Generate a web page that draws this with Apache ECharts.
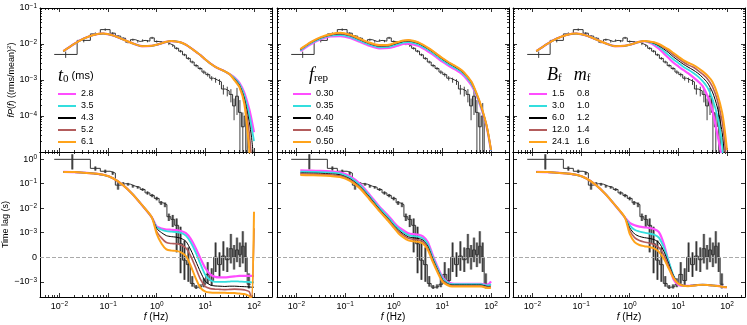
<!DOCTYPE html>
<html>
<head>
<meta charset="utf-8">
<title>PDS and time lag model comparison</title>
<script src="https://cdn.jsdelivr.net/npm/echarts@6/dist/echarts.min.js"></script>
<style>html,body{margin:0;padding:0;background:#fff}#main{width:747px;height:325px}</style>
</head>
<body>
<div id="main"></div>
<script>
// legend entries
var t0Names = ['2.8', '3.5', '4.3', '5.2', '6.1'];
var frepNames = ['0.30', '0.35', '0.40', '0.45', '0.50'];
var bfVals = ['1.5', '3.0', '6.0', '12.0', '24.1'];
var mfVals = ['0.8', '1.0', '1.2', '1.4', '1.6'];

// observed power spectrum: bin edges (Hz), log10 fP(f), relative error
var pdsEdges = [0.0078, 0.0231, 0.0432, 0.0692, 0.110, 0.141, 0.182, 0.229, 0.288, 0.363, 0.457, 0.575, 0.724, 0.891, 1.12, 1.35, 1.62, 1.95, 2.34, 2.82, 3.39, 4.07, 4.90, 5.89, 7.08, 8.51, 10.2, 12.3, 14.8, 17.8, 21.4, 25.7, 30.9, 36.3, 41.7, 47.9, 55.0, 63.1, 72.4, 85.1];
var pdsDex = [-2.29, -1.90, -1.72, -1.60, -1.70, -1.78, -1.84, -1.95, -1.88, -1.93, -1.90, -1.92, -1.83, -1.93, -1.95, -1.95, -2.00, -2.05, -2.12, -2.20, -2.30, -2.40, -2.50, -2.60, -2.68, -2.78, -2.85, -2.95, -3.00, -3.05, -3.25, -3.30, -3.40, -3.72, -3.45, -3.90, -4.30, -4.00, -5.50];
var pdsRelErr = [0.2, 0.12, 0.1, 0.08, 0.07, 0.07, 0.07, 0.07, 0.07, 0.07, 0.07, 0.07, 0.07, 0.07, 0.07, 0.07, 0.07, 0.07, 0.08, 0.08, 0.08, 0.09, 0.09, 0.1, 0.1, 0.12, 0.12, 0.14, 0.16, 0.18, 0.3, 0.3, 0.4, 0.6, 0.7, 1.2, 1.5, 1.3, 2.0];

// observed time lags: bin edges (Hz), lag (s), error (s)
var lagEdges = [0.0078, 0.0432, 0.0692, 0.110, 0.141, 0.182, 0.229, 0.288, 0.363, 0.457, 0.575, 0.724, 0.891, 1.12, 1.35, 1.62, 1.95, 2.34, 2.82, 3.39, 4.07, 4.90, 5.89, 7.08, 8.51, 10.2, 12.3, 14.8, 17.8, 21.4, 25.7, 30.9, 36.3, 41.7, 47.9, 55.0, 63.1, 72.4, 85.1];
var lagVal = [0.98, 0.42, 0.32, 0.27, 0.087, 0.10, 0.095, 0.079, 0.071, 0.058, 0.042, 0.033, 0.025, 0.0166, 0.014, 4.5e-3, 3.5e-3, 2.0e-3, 5.5e-4, -1.2e-4, -3.0e-4, -1.17e-3, -1.66e-3, -1.58e-3, -1.26e-3, -7.0e-4, -9.5e-4, 0, -3.0e-4, 5e-5, -1.0e-4, 3.5e-4, 0, 3.0e-4, 1.0e-4, 4.5e-4, 0, -1.26e-3];
var lagErr = [0.6, 0.08, 0.05, 0.04, 0.03, 0.015, 0.012, 0.01, 0.008, 0.007, 0.006, 0.005, 0.004, 0.003, 0.003, 1.5e-3, 1.8e-3, 1.8e-3, 1.2e-3, 8e-4, 7e-4, 4e-4, 3e-4, 3e-4, 4e-4, 5e-4, 5e-4, 6e-4, 5e-4, 6e-4, 5e-4, 6e-4, 5e-4, 5e-4, 5e-4, 7e-4, 6e-4, 6e-4];

// model frequency grid (Hz)
var modelFreq = [0.012, 0.02, 0.0316, 0.05, 0.0794, 0.126, 0.2, 0.316, 0.5, 0.794, 1.0, 1.26, 1.58, 2.0, 2.51, 3.16, 3.98, 5.01, 6.31, 7.94, 10, 12.6, 15.8, 20, 25.1, 31.6, 39.8, 50.1, 63.1, 79.4, 89.1, 100];

// model log10 fP(f), one row per legend entry
var pdsT0Dex = [
  [-2.20, -2.00, -1.85, -1.75, -1.71, -1.76, -1.87, -1.98, -2.06, -2.05, -2.02, -1.98, -1.94, -1.92, -1.93, -1.96, -2.02, -2.11, -2.21, -2.31, -2.43, -2.54, -2.63, -2.70, -2.76, -2.84, -2.93, -3.08, -3.35, -3.80, -4.10, -4.45],
  [-2.20, -2.00, -1.85, -1.75, -1.71, -1.76, -1.87, -1.98, -2.06, -2.05, -2.02, -1.98, -1.94, -1.92, -1.93, -1.96, -2.02, -2.11, -2.21, -2.31, -2.43, -2.54, -2.63, -2.70, -2.76, -2.84, -2.95, -3.11, -3.42, -3.95, -4.30, -4.70],
  [-2.20, -2.00, -1.85, -1.75, -1.71, -1.76, -1.87, -1.98, -2.06, -2.05, -2.02, -1.98, -1.94, -1.92, -1.93, -1.96, -2.02, -2.11, -2.21, -2.31, -2.43, -2.54, -2.63, -2.70, -2.76, -2.84, -2.97, -3.14, -3.50, -4.15, -4.60, -5.30],
  [-2.20, -2.00, -1.85, -1.75, -1.71, -1.76, -1.87, -1.98, -2.06, -2.05, -2.02, -1.98, -1.94, -1.92, -1.93, -1.96, -2.02, -2.11, -2.21, -2.31, -2.43, -2.54, -2.63, -2.70, -2.76, -2.84, -2.99, -3.17, -3.58, -4.45, -5.20, -6.00],
  [-2.20, -2.00, -1.85, -1.75, -1.71, -1.76, -1.87, -1.98, -2.06, -2.05, -2.02, -1.98, -1.94, -1.92, -1.93, -1.96, -2.02, -2.11, -2.21, -2.31, -2.43, -2.54, -2.63, -2.70, -2.76, -2.84, -3.01, -3.20, -3.66, -4.90, -6.00, -6.00]
];
var pdsFrepDex = [
  [-2.20, -2.00, -1.87, -1.79, -1.78, -1.83, -1.94, -2.05, -2.12, -2.11, -2.08, -2.04, -2.00, -1.99, -2.01, -2.05, -2.12, -2.20, -2.29, -2.39, -2.49, -2.58, -2.66, -2.74, -2.83, -2.97, -3.15, -3.42, -3.79, -4.24, -4.57, -4.97],
  [-2.18, -1.98, -1.85, -1.77, -1.75, -1.80, -1.91, -2.02, -2.09, -2.08, -2.04, -2.00, -1.96, -1.95, -1.97, -2.01, -2.08, -2.16, -2.25, -2.35, -2.45, -2.54, -2.62, -2.70, -2.79, -2.93, -3.11, -3.40, -3.77, -4.23, -4.56, -4.96],
  [-2.16, -1.96, -1.83, -1.75, -1.72, -1.77, -1.88, -1.99, -2.06, -2.05, -2.01, -1.97, -1.93, -1.92, -1.94, -1.98, -2.05, -2.13, -2.22, -2.32, -2.42, -2.51, -2.59, -2.67, -2.76, -2.90, -3.08, -3.38, -3.75, -4.22, -4.55, -4.95],
  [-2.15, -1.95, -1.82, -1.74, -1.71, -1.76, -1.87, -1.98, -2.05, -2.04, -1.99, -1.95, -1.91, -1.90, -1.92, -1.96, -2.03, -2.11, -2.20, -2.30, -2.40, -2.49, -2.57, -2.65, -2.74, -2.88, -3.06, -3.37, -3.74, -4.21, -4.54, -4.94],
  [-2.14, -1.94, -1.81, -1.73, -1.69, -1.74, -1.85, -1.96, -2.03, -2.02, -1.98, -1.94, -1.90, -1.89, -1.91, -1.95, -2.02, -2.10, -2.19, -2.29, -2.39, -2.48, -2.56, -2.64, -2.73, -2.87, -3.05, -3.36, -3.73, -4.21, -4.54, -4.94]
];
var pdsBmDex = [
  [-2.20, -2.00, -1.85, -1.75, -1.71, -1.76, -1.87, -1.98, -2.06, -2.05, -2.02, -1.98, -1.94, -1.92, -1.96, -2.03, -2.13, -2.26, -2.39, -2.52, -2.62, -2.72, -2.81, -2.92, -3.03, -3.17, -3.45, -3.85, -4.50, -5.20, -6.00, -6.00],
  [-2.20, -2.00, -1.85, -1.75, -1.71, -1.76, -1.87, -1.98, -2.06, -2.05, -2.02, -1.98, -1.94, -1.92, -1.95, -2.00, -2.08, -2.19, -2.31, -2.43, -2.53, -2.63, -2.71, -2.80, -2.90, -3.03, -3.21, -3.52, -4.00, -4.80, -6.00, -6.00],
  [-2.20, -2.00, -1.85, -1.75, -1.71, -1.76, -1.87, -1.98, -2.06, -2.05, -2.02, -1.98, -1.94, -1.92, -1.94, -1.98, -2.05, -2.14, -2.24, -2.36, -2.46, -2.56, -2.64, -2.72, -2.81, -2.93, -3.08, -3.33, -3.75, -4.45, -5.10, -6.00],
  [-2.20, -2.00, -1.85, -1.75, -1.71, -1.76, -1.87, -1.98, -2.06, -2.05, -2.02, -1.98, -1.94, -1.92, -1.93, -1.96, -2.02, -2.10, -2.19, -2.30, -2.40, -2.50, -2.58, -2.64, -2.73, -2.84, -2.97, -3.18, -3.55, -4.15, -4.70, -5.50],
  [-2.20, -2.00, -1.85, -1.75, -1.71, -1.76, -1.87, -1.98, -2.06, -2.05, -2.02, -1.98, -1.94, -1.92, -1.93, -1.95, -2.00, -2.07, -2.15, -2.25, -2.35, -2.45, -2.52, -2.58, -2.66, -2.76, -2.88, -3.05, -3.38, -3.90, -4.35, -4.95]
];

// model time lags (s)
var lagT0 = [
  [0.30, 0.295, 0.28, 0.26, 0.23, 0.166, 0.089, 0.038, 0.0132, 0.0042, 1.78e-3, 1.48e-3, 1.35e-3, 1.32e-3, 1.29e-3, 1.17e-3, 9.8e-4, 7.5e-4, 3.8e-4, -5e-5, -4.5e-4, -7.0e-4, -8.0e-4, -8.2e-4, -8.2e-4, -8.0e-4, -7.8e-4, -7.6e-4, -7.6e-4, -7.6e-4, -7.6e-4, -7.6e-4],
  [0.30, 0.295, 0.28, 0.26, 0.23, 0.166, 0.089, 0.038, 0.0132, 0.0042, 1.66e-3, 1.32e-3, 1.15e-3, 1.10e-3, 1.07e-3, 9.9e-4, 8.8e-4, 6.0e-4, 2.0e-4, -2.8e-4, -7.2e-4, -9.3e-4, -1.0e-3, -1.0e-3, -1.0e-3, -9.9e-4, -9.8e-4, -9.9e-4, -1.0e-3, -1.02e-3, -1.05e-3, -1.05e-3],
  [0.30, 0.295, 0.28, 0.26, 0.23, 0.166, 0.089, 0.038, 0.0132, 0.0042, 1.48e-3, 1.0e-3, 8.8e-4, 8.4e-4, 8.2e-4, 7.7e-4, 6.5e-4, 3.0e-4, -1.5e-4, -6.0e-4, -9.8e-4, -1.35e-3, -1.48e-3, -1.51e-3, -1.55e-3, -1.51e-3, -1.51e-3, -1.55e-3, -1.58e-3, -1.62e-3, -1.66e-3, -1.66e-3],
  [0.30, 0.295, 0.28, 0.26, 0.23, 0.166, 0.089, 0.038, 0.0132, 0.0042, 1.12e-3, 7.8e-4, 6.0e-4, 5.6e-4, 5.5e-4, 5.0e-4, 3.8e-4, 5e-5, -4.2e-4, -9.0e-4, -1.58e-3, -1.9e-3, -2.0e-3, -2.04e-3, -2.09e-3, -2.04e-3, -2.0e-3, -2.04e-3, -2.14e-3, -2.51e-3, -5.0e-3, 1.51e-3],
  [0.30, 0.295, 0.28, 0.26, 0.23, 0.166, 0.089, 0.038, 0.0132, 0.0042, 9.5e-4, 5.5e-4, 3.2e-4, 2.7e-4, 2.6e-4, 2.0e-4, 5e-5, -3.5e-4, -8.5e-4, -1.78e-3, -2.51e-3, -2.75e-3, -2.82e-3, -2.82e-3, -2.82e-3, -2.88e-3, -2.88e-3, -3.02e-3, -3.16e-3, -3.8e-3, -5.0e-3, 7.1e-3]
];
var lagFrep = [
  [0.347, 0.339, 0.331, 0.316, 0.288, 0.20, 0.10, 0.036, 0.012, 4.6e-3, 2.7e-3, 1.7e-3, 1.26e-3, 9.8e-4, 9.4e-4, 9.2e-4, 8.5e-4, 6.2e-4, 1.0e-4, -3.8e-4, -8.0e-4, -1.0e-3, -1.17e-3, -1.2e-3, -1.2e-3, -1.2e-3, -1.2e-3, -1.2e-3, -1.2e-3, -1.32e-3, -1.26e-3, -9.8e-4],
  [0.309, 0.302, 0.295, 0.282, 0.257, 0.178, 0.089, 0.032, 0.0107, 4.0e-3, 2.3e-3, 1.45e-3, 1.05e-3, 9.0e-4, 8.6e-4, 8.4e-4, 7.7e-4, 5.3e-4, 2e-5, -4.4e-4, -8.5e-4, -1.07e-3, -1.26e-3, -1.26e-3, -1.26e-3, -1.26e-3, -1.26e-3, -1.26e-3, -1.26e-3, -1.41e-3, -1.41e-3, -1.26e-3],
  [0.275, 0.269, 0.263, 0.251, 0.229, 0.158, 0.079, 0.029, 9.5e-3, 3.5e-3, 2.0e-3, 1.26e-3, 9.5e-4, 8.3e-4, 7.9e-4, 7.7e-4, 7.0e-4, 4.5e-4, -5e-5, -5.0e-4, -9.0e-4, -1.17e-3, -1.35e-3, -1.35e-3, -1.35e-3, -1.35e-3, -1.35e-3, -1.35e-3, -1.35e-3, -1.51e-3, -1.55e-3, -1.51e-3],
  [0.251, 0.245, 0.240, 0.229, 0.209, 0.145, 0.072, 0.026, 8.7e-3, 3.2e-3, 1.8e-3, 1.1e-3, 8.9e-4, 7.7e-4, 7.3e-4, 7.1e-4, 6.4e-4, 3.8e-4, -1.1e-4, -5.5e-4, -9.4e-4, -1.26e-3, -1.45e-3, -1.45e-3, -1.45e-3, -1.45e-3, -1.45e-3, -1.45e-3, -1.45e-3, -1.62e-3, -1.66e-3, -1.62e-3],
  [0.224, 0.219, 0.214, 0.204, 0.186, 0.129, 0.065, 0.023, 7.8e-3, 2.8e-3, 1.6e-3, 9.7e-4, 8.1e-4, 6.9e-4, 6.5e-4, 6.3e-4, 5.6e-4, 3.0e-4, -1.8e-4, -6.1e-4, -9.9e-4, -1.35e-3, -1.55e-3, -1.55e-3, -1.55e-3, -1.55e-3, -1.55e-3, -1.55e-3, -1.55e-3, -1.74e-3, -1.78e-3, -1.74e-3]
];
var lagBm = [
  [0.30, 0.295, 0.28, 0.26, 0.23, 0.166, 0.089, 0.038, 0.0132, 0.0042, 2.51e-3, 2.0e-3, 1.78e-3, 1.66e-3, 1.58e-3, 1.41e-3, 1.05e-3, 5.5e-4, -2.0e-4, -9.0e-4, -1.32e-3, -1.48e-3, -1.48e-3, -1.41e-3, -1.35e-3, -1.32e-3, -1.35e-3, -1.41e-3, -1.48e-3, -1.58e-3, -1.66e-3, -1.66e-3],
  [0.30, 0.295, 0.28, 0.26, 0.23, 0.166, 0.089, 0.038, 0.0132, 0.0042, 2.0e-3, 1.32e-3, 1.12e-3, 1.0e-3, 9.7e-4, 9.2e-4, 8.0e-4, 4.0e-4, -1.5e-4, -7.5e-4, -1.2e-3, -1.45e-3, -1.48e-3, -1.41e-3, -1.35e-3, -1.32e-3, -1.35e-3, -1.41e-3, -1.48e-3, -1.58e-3, -1.66e-3, -1.66e-3],
  [0.30, 0.295, 0.28, 0.26, 0.23, 0.166, 0.089, 0.038, 0.0132, 0.0042, 1.58e-3, 9.5e-4, 8.5e-4, 8.0e-4, 7.7e-4, 7.2e-4, 6.0e-4, 2.5e-4, -2.5e-4, -7.5e-4, -1.12e-3, -1.41e-3, -1.48e-3, -1.41e-3, -1.35e-3, -1.32e-3, -1.35e-3, -1.41e-3, -1.48e-3, -1.58e-3, -1.66e-3, -1.66e-3],
  [0.30, 0.295, 0.28, 0.26, 0.23, 0.166, 0.089, 0.038, 0.0132, 0.0042, 1.26e-3, 8.0e-4, 6.8e-4, 6.2e-4, 5.8e-4, 5.2e-4, 4.0e-4, 1.0e-4, -3.5e-4, -8.0e-4, -1.12e-3, -1.41e-3, -1.48e-3, -1.41e-3, -1.35e-3, -1.32e-3, -1.35e-3, -1.41e-3, -1.48e-3, -1.58e-3, -1.66e-3, -1.66e-3],
  [0.30, 0.295, 0.28, 0.26, 0.23, 0.166, 0.089, 0.038, 0.0132, 0.0042, 9.5e-4, 6.2e-4, 5.0e-4, 4.5e-4, 4.2e-4, 3.6e-4, 2.2e-4, -5e-5, -4.5e-4, -8.5e-4, -1.2e-3, -1.45e-3, -1.51e-3, -1.45e-3, -1.35e-3, -1.32e-3, -1.35e-3, -1.41e-3, -1.48e-3, -1.58e-3, -1.66e-3, -1.66e-3]
];

var FONT = "'Liberation Sans', Arial, sans-serif";
var SERIF = "'Liberation Serif', 'DejaVu Serif', serif";
var colors = ['#ff4dff', '#33dede', '#000000', '#b35c5c', '#ffa31a'];
var widths = [2.2, 1.8, 1.0, 1.6, 2.0];

var X_MIN = -2.4, X_MAX = 2.37;
var PDS_MIN = -5, PDS_MAX = -1;
var LAG_MIN = -1.62, LAG_MAX = 4.29;
var colLeft = [40, 277, 513];
var rows = [{top: 8, height: 144}, {top: 152, height: 145}];

function lg(v) { return Math.log10(v); }
// symmetric log, linear inside +-1e-3 s
function symlog(v) {
  var a = Math.abs(v);
  if (a <= 1e-3) return v / 1e-3;
  return (v < 0 ? -1 : 1) * (1 + Math.log10(a / 1e-3));
}
function clamp(v, lo, hi) { return Math.max(lo, Math.min(hi, v)); }
function logMinors(lo, hi) {
  var out = [];
  for (var k = Math.floor(lo); k <= Math.ceil(hi); k++) {
    for (var m = 2; m <= 9; m++) {
      var v = k + Math.log10(m);
      if (v > lo && v < hi) out.push(v);
    }
  }
  return out;
}
function expText(e) { return e < 0 ? '\u2212' + (-e) : String(e); }

var labelRich = {
  b: {fontSize: 9, fontFamily: FONT, color: '#000', lineHeight: 11},
  s: {fontSize: 6.5, fontFamily: FONT, color: '#000', lineHeight: 7, verticalAlign: 'top'}
};

var xCfg = {min: X_MIN, max: X_MAX, majors: [-2, -1, 0, 1, 2], minors: logMinors(X_MIN, X_MAX)};
var pdsCfg = {min: PDS_MIN, max: PDS_MAX, majors: [-5, -4, -3, -2, -1], minors: logMinors(PDS_MIN, PDS_MAX)};
var lagCfg = {min: LAG_MIN, max: LAG_MAX, majors: [-1, 0, 1, 2, 3, 4], minors: []};

function makeAxis(g, pos, main, cfg) {
  var ticks = main ? cfg.majors : cfg.minors;
  return {
    type: 'value', gridIndex: g, position: pos, min: cfg.min, max: cfg.max,
    axisLine: {show: main, onZero: false, lineStyle: {color: '#000', width: 1}},
    axisTick: {show: ticks.length > 0, inside: true, length: main ? 4 : 2,
      customValues: ticks, lineStyle: {color: '#000', width: 0.8}},
    axisLabel: {show: false},
    splitLine: {show: false},
    silent: true
  };
}

var grids = [], xAxes = [], yAxes = [], series = [];
for (var r = 0; r < 2; r++) {
  for (var c = 0; c < 3; c++) {
    var g = r * 3 + c;
    grids.push({left: colLeft[c], top: rows[r].top, width: 232, height: rows[r].height, outerBoundsMode: 'none'});
    var yCfg = r === 0 ? pdsCfg : lagCfg;

    var xb = makeAxis(g, 'bottom', true, xCfg);
    if (r === 1) {
      xb.axisLabel = {show: true, customValues: xCfg.majors, margin: 4, rich: labelRich,
        formatter: function (v) { return '{b|10}{s|' + expText(v) + '}'; }};
      xb.name = '{i|f} (Hz)';
      xb.nameLocation = 'middle';
      xb.nameGap = 12;
      xb.nameTextStyle = {fontSize: 10, fontFamily: FONT, color: '#000',
        rich: {i: {fontSize: 10, fontFamily: FONT, fontStyle: 'italic'}}};
    }
    xAxes.push(xb, makeAxis(g, 'bottom', false, xCfg), makeAxis(g, 'top', true, xCfg), makeAxis(g, 'top', false, xCfg));

    var yl = makeAxis(g, 'left', true, yCfg);
    if (c === 0) {
      if (r === 0) {
        yl.axisLabel = {show: true, customValues: [-4, -3, -2, -1], margin: 3, rich: labelRich,
          formatter: function (v) { return '{b|10}{s|' + expText(v) + '}'; }};
        yl.name = '{i|fP}({i|f}) ((rms/mean){s|2})';
      } else {
        yl.axisLabel = {show: true, customValues: lagCfg.majors, margin: 3, rich: labelRich,
          formatter: function (v) {
            if (v === 0) return '{b|0}';
            if (v < 0) return '{b|\u221210}{s|\u22123}';
            return '{b|10}{s|' + expText(v - 4) + '}';
          }};
        yl.name = 'Time lag (s)';
      }
      yl.nameLocation = 'middle';
      yl.nameGap = 22;
      yl.nameTextStyle = {fontSize: 9, fontFamily: FONT, color: '#000',
        rich: {i: {fontSize: 9, fontFamily: FONT, fontStyle: 'italic'},
               s: {fontSize: 6, fontFamily: FONT, verticalAlign: 'top'}}};
    }
    yAxes.push(yl, makeAxis(g, 'left', false, yCfg), makeAxis(g, 'right', true, yCfg), makeAxis(g, 'right', false, yCfg));
  }
}

function errorSeries(g, data, thick) {
  return {
    type: 'custom', xAxisIndex: g * 4, yAxisIndex: g * 4, data: data, silent: true, z: 2,
    renderItem: function (params, api) {
      var a = api.coord([api.value(0), api.value(1)]);
      var b = api.coord([api.value(0), api.value(2)]);
      var shape = {x1: a[0], y1: a[1], x2: b[0], y2: b[1]};
      var kids = [];
      if (thick) kids.push({type: 'line', shape: shape, style: {stroke: 'rgba(100,100,100,0.7)', lineWidth: 2.6}});
      kids.push({type: 'line', shape: shape, style: {stroke: '#111', lineWidth: 0.8}});
      return {type: 'group', children: kids};
    }
  };
}

function stepData(edges, vals, tf) {
  var d = [];
  for (var i = 0; i < vals.length; i++) d.push([lg(edges[i]), tf(vals[i])]);
  d.push([lg(edges[vals.length]), tf(vals[vals.length - 1])]);
  return d;
}
function ident(v) { return v; }

var pdsErrData = [], lagErrData = [];
for (var i = 0; i < pdsDex.length; i++) {
  var xc = (lg(pdsEdges[i]) + lg(pdsEdges[i + 1])) / 2;
  var rr = pdsRelErr[i];
  var hi = pdsDex[i] + lg(1 + rr);
  var lo = rr < 1 ? pdsDex[i] + lg(1 - rr) : PDS_MIN;
  pdsErrData.push([xc, clamp(lo, PDS_MIN, PDS_MAX), clamp(hi, PDS_MIN, PDS_MAX)]);
}
for (var j = 0; j < lagVal.length; j++) {
  var xl = (lg(lagEdges[j]) + lg(lagEdges[j + 1])) / 2;
  lagErrData.push([xl, clamp(symlog(lagVal[j] - lagErr[j]), LAG_MIN, LAG_MAX),
    clamp(symlog(lagVal[j] + lagErr[j]), LAG_MIN, LAG_MAX)]);
}

var bmNames = bfVals.map(function (b, k) { return b + '|' + mfVals[k]; });
var panels = [
  {names: t0Names, pds: pdsT0Dex, lag: lagT0},
  {names: frepNames, pds: pdsFrepDex, lag: lagFrep},
  {names: bmNames, pds: pdsBmDex, lag: lagBm}
];

panels.forEach(function (p, c) {
  var gt = c, gb = c + 3;
  series.push(errorSeries(gt, pdsErrData, false));
  series.push({type: 'line', xAxisIndex: gt * 4, yAxisIndex: gt * 4, step: 'end', symbol: 'none',
    data: stepData(pdsEdges, pdsDex, ident), lineStyle: {color: '#333', width: 1}, silent: true, z: 2});
  series.push(errorSeries(gb, lagErrData, true));
  series.push({type: 'line', xAxisIndex: gb * 4, yAxisIndex: gb * 4, step: 'end', symbol: 'none',
    data: stepData(lagEdges, lagVal, symlog), lineStyle: {color: '#333', width: 1}, silent: true, z: 2,
    markLine: {silent: true, symbol: 'none', label: {show: false}, animation: false,
      lineStyle: {color: '#aaa', type: 'dashed', width: 1}, data: [{yAxis: 0}]}});
  for (var k = 0; k < 5; k++) {
    var top = [], bot = [];
    for (var n = 0; n < modelFreq.length; n++) {
      top.push([lg(modelFreq[n]), p.pds[k][n]]);
      bot.push([lg(modelFreq[n]), symlog(p.lag[k][n])]);
    }
    var st = {color: colors[k], width: widths[k]};
    series.push({type: 'line', name: p.names[k], xAxisIndex: gt * 4, yAxisIndex: gt * 4, data: top,
      symbol: 'none', smooth: 0.25, lineStyle: st, itemStyle: {color: colors[k]}, silent: true, z: 3 + k});
    series.push({type: 'line', name: p.names[k], xAxisIndex: gb * 4, yAxisIndex: gb * 4, data: bot,
      symbol: 'none', smooth: 0.25, lineStyle: st, itemStyle: {color: colors[k]}, silent: true, z: 3 + k});
  }
});

var legendText = {fontSize: 9, fontFamily: FONT, color: '#000', lineHeight: 10};
var hiddenMark = {opacity: 0, color: 'rgba(0,0,0,0)', borderWidth: 0, borderColor: 'rgba(0,0,0,0)'};
var legends = [
  {data: t0Names, left: 52, top: 84, orient: 'vertical', itemWidth: 18, itemHeight: 10, itemGap: 2,
    selectedMode: false, itemStyle: hiddenMark, textStyle: legendText},
  {data: frepNames, left: 287, top: 84, orient: 'vertical', itemWidth: 18, itemHeight: 10, itemGap: 2,
    selectedMode: false, itemStyle: hiddenMark, textStyle: legendText},
  {data: bmNames, left: 523, top: 84, orient: 'vertical', itemWidth: 18, itemHeight: 10, itemGap: 2,
    selectedMode: false, itemStyle: hiddenMark,
    formatter: function (n) { var q = n.split('|'); return '{a|' + q[0] + '}{b|' + q[1] + '}'; },
    textStyle: {fontSize: 9, fontFamily: FONT, color: '#000', lineHeight: 10,
      rich: {a: {width: 25, fontSize: 9, fontFamily: FONT}, b: {fontSize: 9, fontFamily: FONT}}}}
];

var mathRich = {
  i: {fontFamily: SERIF, fontStyle: 'italic', fontWeight: 'normal', fontSize: 18, color: '#000'},
  s: {fontFamily: SERIF, fontWeight: 'normal', fontSize: 11, color: '#000', verticalAlign: 'bottom'},
  n: {fontFamily: FONT, fontWeight: 'normal', fontSize: 11, color: '#000'},
  g: {width: 12}
};
var titleStyle = {fontWeight: 'normal', rich: mathRich};
var titles = [
  {left: 53, top: 62, text: '{i|t}{s|0}{n| (ms)}', textStyle: titleStyle},
  {left: 304, top: 61, text: '{i|f}{s|rep}', textStyle: titleStyle},
  {left: 542, top: 61, text: '{i|B}{s|f}{g|}{i|m}{s|f}', textStyle: titleStyle}
];

var chart = echarts.init(document.getElementById('main'));
chart.setOption({
  animation: false,
  backgroundColor: '#fff',
  textStyle: {fontFamily: FONT},
  title: titles,
  legend: legends,
  grid: grids,
  xAxis: xAxes,
  yAxis: yAxes,
  series: series
});
</script>
</body>
</html>
